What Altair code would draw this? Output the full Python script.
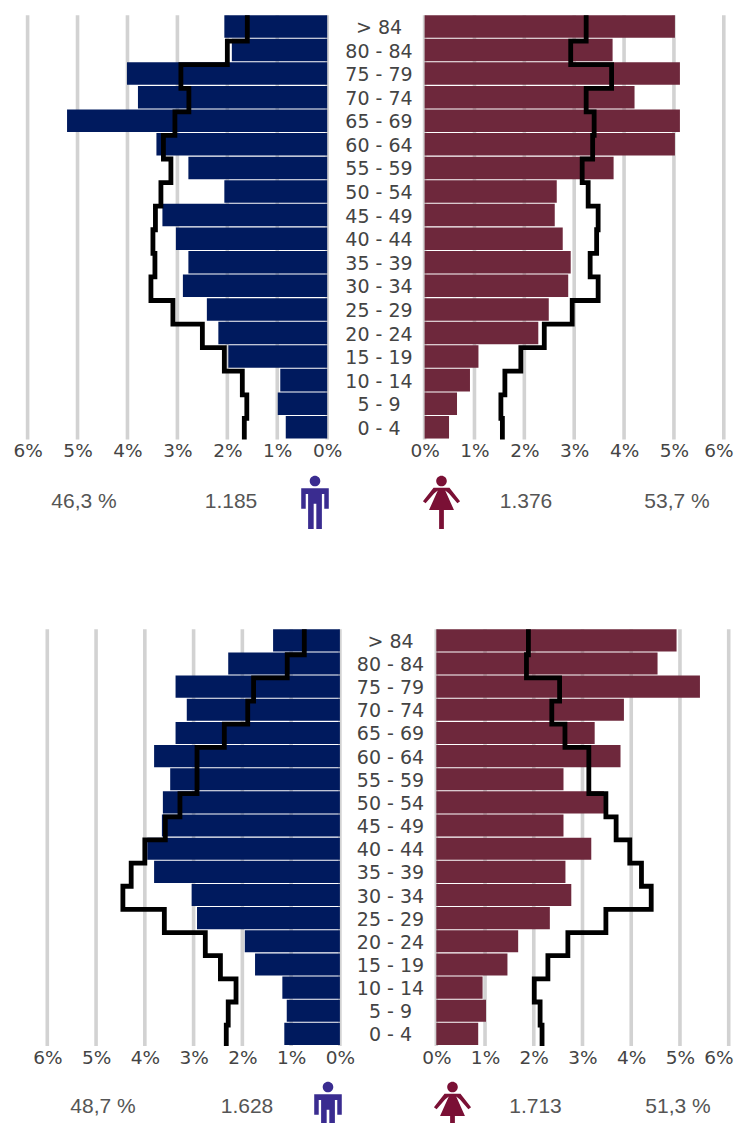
import altair as alt
import pandas as pd

ages = ["> 84", "80 - 84", "75 - 79", "70 - 74", "65 - 69", "60 - 64", "55 - 59", "50 - 54", "45 - 49",
        "40 - 44", "35 - 39", "30 - 34", "25 - 29", "20 - 24", "15 - 19", "10 - 14", "5 - 9", "0 - 4"]
ticks = [0, 1, 2, 3, 4, 5, 6]

top_m_bar = [2.06, 1.91, 4.01, 3.79, 5.21, 3.42, 2.78, 2.06, 3.30, 3.03, 2.78, 2.89, 2.41, 2.18, 1.98, 0.94, 0.99, 0.83]
top_m_line = [1.60, 2.00, 2.93, 2.77, 3.05, 3.28, 3.13, 3.33, 3.44, 3.49, 3.45, 3.53, 3.09, 2.50, 2.06, 1.70, 1.61, 1.66]
top_f_bar = [5.02, 3.77, 5.12, 4.21, 5.12, 5.02, 3.79, 2.65, 2.61, 2.77, 2.93, 2.88, 2.49, 2.28, 1.08, 0.91, 0.65, 0.49]
top_f_line = [3.24, 2.93, 3.75, 3.24, 3.40, 3.37, 3.16, 3.28, 3.48, 3.45, 3.32, 3.48, 2.96, 2.40, 1.93, 1.61, 1.53, 1.56]
bot_m_bar = [1.37, 2.29, 3.37, 3.14, 3.37, 3.81, 3.48, 3.63, 3.65, 3.95, 3.81, 3.04, 2.93, 1.95, 1.74, 1.18, 1.09, 1.14]
bot_m_line = [0.73, 1.08, 1.77, 1.89, 2.37, 2.93, 2.93, 3.28, 3.58, 4.00, 4.28, 4.45, 3.60, 2.76, 2.45, 2.13, 2.29, 2.33]
bot_f_bar = [4.93, 4.54, 5.41, 3.85, 3.25, 3.78, 2.61, 3.44, 2.61, 3.18, 2.65, 2.77, 2.33, 1.68, 1.46, 0.95, 1.02, 0.86]
bot_f_line = [1.89, 1.85, 2.53, 2.37, 2.64, 3.13, 3.13, 3.48, 3.69, 3.97, 4.21, 4.41, 3.48, 2.70, 2.29, 2.01, 2.13, 2.17]

NAVY = "#001a5e"
MAROON = "#6e283c"
GRID = "#d2d2d2"
TXT = "#444444"
W, H = 726, 1115
OX, OY = 8, 8  # page margin
TICK_FONT = "DejaVu Sans"
TICK_SIZE = 18.5

MALE = ("M-0.2,-0.81 A0.2,0.2 0 1 1 0.2,-0.81 A0.2,0.2 0 1 1 -0.2,-0.81 Z "
        "M-0.52,-0.54 L0.52,-0.54 L0.52,0.24 L0.35,0.24 L0.35,-0.32 L0.26,-0.32 L0.26,1 L0.05,1 "
        "L0.05,0.05 L-0.05,0.05 L-0.05,1 L-0.26,1 L-0.26,-0.32 L-0.35,-0.32 L-0.35,0.24 L-0.52,0.24 Z")
FEMALE = ("M-0.2,-0.81 A0.2,0.2 0 1 1 0.2,-0.81 A0.2,0.2 0 1 1 -0.2,-0.81 Z "
          "M-0.3,-0.56 L0.3,-0.56 L0.7,-0.05 L0.6,0.03 L0.28,-0.34 L0.14,-0.45 L0.47,0.28 L0.09,0.28 "
          "L0.09,1 L-0.09,1 L-0.09,0.28 L-0.47,0.28 L-0.14,-0.45 L-0.28,-0.34 L-0.6,0.03 L-0.7,-0.05 Z")


def panel(bars, line, x0, x6, y0, y1, color, edge_label=False):
    xs = alt.Scale(domain=[0, 6], range=[x0 - OX, x6 - OX], nice=False, zero=False)
    ys = alt.Scale(domain=[0, 18], range=[y0 - OY, y1 - OY], nice=False, zero=False)
    grid_df = pd.DataFrame({"t": ticks, "a": 0, "b": 18})
    bar_df = pd.DataFrame({"v": bars, "base": 0, "r0": range(18)})
    bar_df["r1"] = bar_df["r0"] + 0.955
    pts = []
    for i, v in enumerate(line):
        pts.append({"v": v, "r": i + 0.1 if i else 0, "o": 2 * i})
        pts.append({"v": v, "r": i + 1.1 if i < 17 else 18, "o": 2 * i + 1})
    line_df = pd.DataFrame(pts)
    axis = alt.Axis(values=ticks[:-1] if edge_label else ticks, labelExpr="datum.value + '%'", domain=False,
                    ticks=False, grid=False, title=None, orient="bottom", offset=(y1 - OY) - H, labelPadding=2,
                    labelFlush=False, labelOverlap=False, labelFont=TICK_FONT, labelFontSize=TICK_SIZE,
                    labelColor=TXT, labelFontWeight="normal")
    g = alt.Chart(grid_df).mark_rule(color=GRID, strokeWidth=3.6).encode(
        x=alt.X("t:Q", scale=xs, axis=axis),
        y=alt.Y("a:Q", scale=ys, axis=None), y2="b:Q")
    b = alt.Chart(bar_df).mark_rect(color=color).encode(
        x=alt.X("v:Q", scale=xs, axis=None), x2="base:Q",
        y=alt.Y("r0:Q", scale=ys, axis=None), y2="r1:Q")
    l = alt.Chart(line_df).mark_line(color="black", strokeWidth=4.8, strokeJoin="miter", strokeCap="butt").encode(
        x=alt.X("v:Q", scale=xs, axis=None),
        y=alt.Y("r:Q", scale=ys, axis=None), order="o:Q")
    out = [g, b, l]
    if edge_label:
        # the last tick label would pass the canvas edge, so it is pulled in to end at that edge
        out.append(alt.Chart(pd.DataFrame({"t": [ticks[-1]], "s": [f"{ticks[-1]}%"]})).mark_text(
            font=TICK_FONT, fontSize=TICK_SIZE, color=TXT, align="right", baseline="top",
            dx=(OX + W - 0.5) - x6).encode(
            x=alt.X("t:Q", scale=xs, axis=None), y=alt.value(y1 - OY + 2.5), text="s:N"))
    return out


def age_labels(xc, y0, y1):
    ys = alt.Scale(domain=[0, 18], range=[y0 - OY, y1 - OY], nice=False, zero=False)
    df = pd.DataFrame({"age": ages, "r": [i + 0.5 for i in range(18)]})
    return alt.Chart(df).mark_text(font="DejaVu Sans", fontSize=19, color=TXT, align="center", baseline="middle", dy=1).encode(
        x=alt.value(xc - OX), y=alt.Y("r:Q", scale=ys, axis=None), text="age:N")


def stat(text, xc, yc):
    return alt.Chart(pd.DataFrame({"s": [text]})).mark_text(
        font="Liberation Sans", fontSize=21, color="#555555", align="center", baseline="middle").encode(
        x=alt.value(xc - OX), y=alt.value(yc - OY), text="s:N")


def icon(path, color, xc, yc):
    return alt.Chart(pd.DataFrame({"k": [1]})).mark_point(
        shape=path, filled=True, size=2809, color=color, opacity=1, strokeWidth=0).encode(
        x=alt.value(xc - OX), y=alt.value(yc - OY))


layers = []
layers += panel(top_m_bar, top_m_line, 327.2, 27.6, 15.2, 439.6, NAVY)
layers += panel(top_f_bar, top_f_line, 424.6, 723.8, 15.2, 439.6, MAROON, edge_label=True)
layers += panel(bot_m_bar, bot_m_line, 339.9, 47.3, 629.3, 1046, NAVY)
layers += panel(bot_f_bar, bot_f_line, 436.3, 728.7, 629.3, 1046, MAROON, edge_label=True)
layers += [age_labels(379, 15.2, 439.6), age_labels(390.5, 629.3, 1046)]
layers += [stat("46,3 %", 84, 502), stat("1.185", 231, 502), stat("1.376", 526, 502), stat("53,7 %", 677, 502),
           stat("48,7 %", 103, 1107), stat("1.628", 247, 1107), stat("1.713", 535.5, 1107), stat("51,3 %", 678, 1107)]
layers += [icon(MALE, "#3a2c90", 315, 502.5), icon(FEMALE, "#7a1035", 441.5, 502.5),
           icon(MALE, "#3a2c90", 328, 1108.5), icon(FEMALE, "#7a1035", 452.5, 1108.5)]

chart = alt.layer(*layers).resolve_scale(x="independent", y="independent").properties(
    width=W, height=H, padding=0, autosize=alt.AutoSizeParams(type="none"), background="white"
).configure_view(stroke=None)

chart.save("out.html", embed_options={"renderer": "svg", "actions": False})
